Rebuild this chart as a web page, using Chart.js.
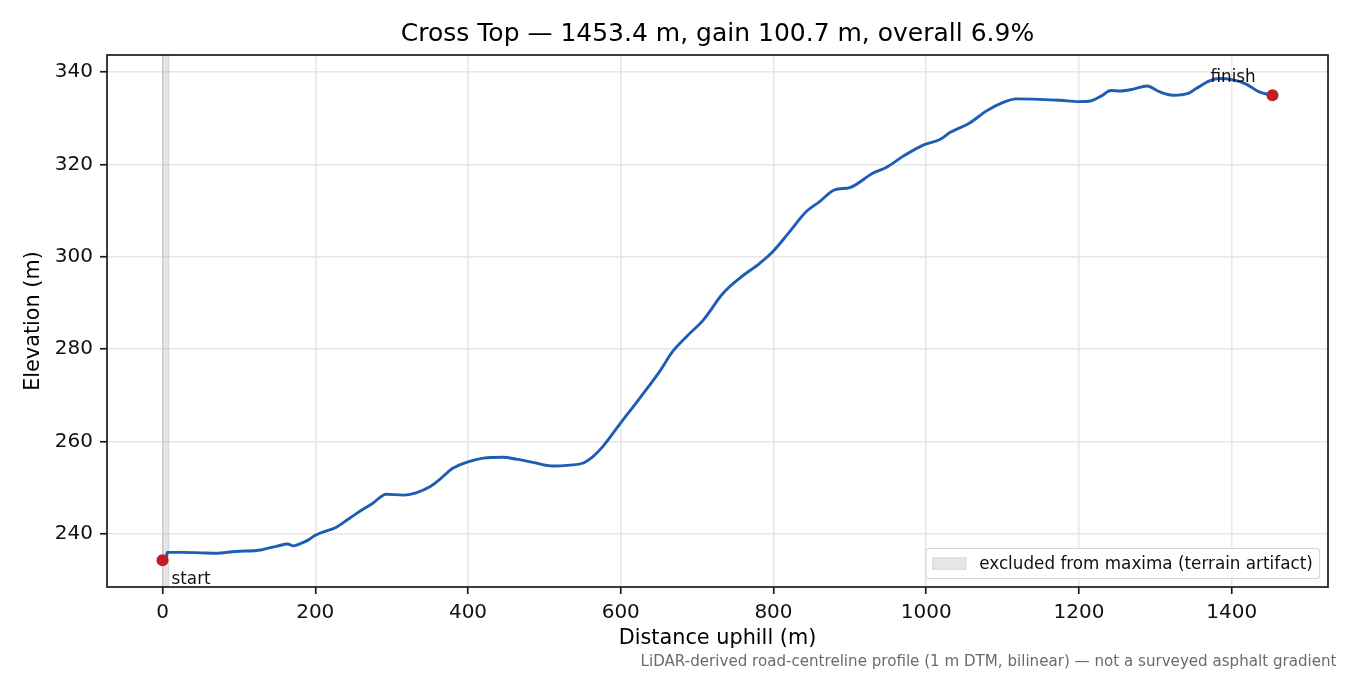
<!DOCTYPE html>
<html>
<head>
<meta charset="utf-8">
<script src="https://cdn.jsdelivr.net/npm/chart.js@4.4.1/dist/chart.umd.min.js"></script>
<style>
html, body { margin: 0; padding: 0; background: #ffffff; }
#wrap { width: 1350px; height: 675px; }
</style>
</head>
<body>
<div id="wrap"><canvas id="profile" width="1350" height="675"></canvas></div>
<script>
// road profile
const distances = [
    0, 5, 6, 27, 50, 70, 96, 129, 136, 149, 164, 171, 179, 190, 199, 210, 227, 245, 262, 275,
    293, 315, 332, 350, 363, 380, 400, 420, 446, 463, 485, 511, 533, 550, 564, 577, 598, 625, 651, 668,
    686, 708, 734, 756, 782, 799, 821, 843, 860, 880, 900, 930, 948, 970, 996, 1018, 1031, 1057, 1079, 1100,
    1118, 1148, 1175, 1200, 1216, 1229, 1242, 1253, 1271, 1289, 1306, 1323, 1343, 1354, 1371, 1384, 1402, 1419, 1436, 1453.4
];
const elevations = [
    234.3, 234.8, 236.0, 236.0, 235.9, 235.8, 236.2, 236.5, 236.8, 237.3, 237.8, 237.4, 237.8, 238.6, 239.6, 240.4, 241.4, 243.4, 245.3, 246.6,
    248.6, 248.4, 248.9, 250.2, 251.8, 254.2, 255.6, 256.4, 256.6, 256.2, 255.5, 254.7, 254.9, 255.3, 256.8, 259.0, 263.6, 269.4, 275.2, 279.5,
    282.7, 286.3, 292.1, 295.4, 298.6, 301.1, 305.4, 309.8, 311.9, 314.5, 315.0, 318.1, 319.4, 321.8, 324.2, 325.4, 326.9, 329.0, 331.6, 333.4,
    334.2, 334.1, 333.9, 333.6, 333.8, 334.8, 336.0, 335.9, 336.3, 337.0, 335.7, 335.0, 335.4, 336.5, 338.1, 338.6, 338.3, 337.4, 335.7, 335.0
];

const markerDistances = [0, 1453.4];
const markerElevations = [234.3, 335.0];
const markerLabels = ['start', 'finish'];

const excludedSpan = [0, 8];

const xTicks = [0, 200, 400, 600, 800, 1000, 1200, 1400];
const yTicks = [240, 260, 280, 300, 320, 340];
const xRange = [-72.7, 1526.1];
const yRange = [228.5, 343.7];

const titleText = 'Cross Top — 1453.4 m, gain 100.7 m, overall 6.9%';
const xLabel = 'Distance uphill (m)';
const yLabel = 'Elevation (m)';
const legendText = 'excluded from maxima (terrain artifact)';
const footnoteText = 'LiDAR-derived road-centreline profile (1 m DTM, bilinear) — not a surveyed asphalt gradient';

const FONT = "'DejaVu Sans', 'Noto Sans', sans-serif";

const profilePoints = distances.map((d, i) => ({ x: d, y: elevations[i] }));
const markerPoints = markerDistances.map((d, i) => ({ x: d, y: markerElevations[i] }));

// grey span behind the start of the road
const spanPlugin = {
    id: 'excludedSpan',
    beforeDatasetsDraw(chart) {
        const { ctx, chartArea, scales } = chart;
        const x0 = scales.x.getPixelForValue(excludedSpan[0]);
        const x1 = scales.x.getPixelForValue(excludedSpan[1]);
        ctx.save();
        ctx.fillStyle = 'rgba(128,128,128,0.2)';
        ctx.strokeStyle = 'rgba(128,128,128,0.2)';
        ctx.lineWidth = 1.5;
        ctx.fillRect(x0, chartArea.top, x1 - x0, chartArea.bottom - chartArea.top);
        ctx.strokeRect(x0, chartArea.top, x1 - x0, chartArea.bottom - chartArea.top);
        ctx.restore();
    }
};

// frame, start/finish labels, legend box and footnote
const decorPlugin = {
    id: 'decor',
    afterDatasetsDraw(chart) {
        const { ctx, chartArea, scales } = chart;
        ctx.save();

        ctx.strokeStyle = '#1a1a1a';
        ctx.lineWidth = 1.7;
        ctx.strokeRect(chartArea.left, chartArea.top, chartArea.right - chartArea.left, chartArea.bottom - chartArea.top);

        ctx.fillStyle = '#111111';
        ctx.font = '16.8px ' + FONT;
        ctx.textBaseline = 'middle';
        ctx.textAlign = 'left';
        const sx = scales.x.getPixelForValue(markerDistances[0]);
        const sy = scales.y.getPixelForValue(markerElevations[0]);
        ctx.fillText(markerLabels[0], sx + 9, sy + 19);
        const fx = scales.x.getPixelForValue(markerDistances[1]);
        const fy = scales.y.getPixelForValue(markerElevations[1]);
        ctx.fillText(markerLabels[1], fx - 62, fy - 18);

        // legend
        const textW = ctx.measureText(legendText).width;
        const boxW = 6.7 + 33.3 + 13.3 + textW + 6.7;
        const boxH = 30;
        const bx = chartArea.right - 8.5 - boxW;
        const by = chartArea.bottom - 8.5 - boxH;
        ctx.beginPath();
        ctx.roundRect(bx, by, boxW, boxH, 3);
        ctx.fillStyle = 'rgba(255,255,255,0.8)';
        ctx.fill();
        ctx.strokeStyle = '#d6d6d6';
        ctx.lineWidth = 1.2;
        ctx.stroke();
        ctx.fillStyle = 'rgba(128,128,128,0.2)';
        ctx.strokeStyle = 'rgba(128,128,128,0.2)';
        ctx.fillRect(bx + 6.7, by + boxH / 2 - 5.8, 33.3, 11.7);
        ctx.strokeRect(bx + 6.7, by + boxH / 2 - 5.8, 33.3, 11.7);
        ctx.fillStyle = '#111111';
        ctx.fillText(legendText, bx + 6.7 + 33.3 + 13.3, by + boxH / 2 + 1);

        ctx.restore();
    },
    afterDraw(chart) {
        const ctx = chart.ctx;
        ctx.save();
        ctx.font = '15.1px ' + FONT;
        ctx.fillStyle = '#6b6b6b';
        ctx.textAlign = 'right';
        ctx.textBaseline = 'bottom';
        ctx.fillText(footnoteText, 1336.5, 670);
        ctx.restore();
    }
};

const tickStyle = {
    color: '#111111',
    font: { family: FONT, size: 20 },
    padding: 7,
    callback: v => String(v)
};
const gridStyle = { color: '#e6e6e6', lineWidth: 1.5, tickLength: 7, tickColor: '#1a1a1a', tickWidth: 1.7 };

new Chart(document.getElementById('profile'), {
    type: 'line',
    data: {
        datasets: [{
            label: 'ends',
            data: markerPoints,
            showLine: false,
            pointRadius: 6,
            pointHoverRadius: 6,
            pointBackgroundColor: '#c21b2a',
            pointBorderWidth: 0
        }, {
            label: 'profile',
            data: profilePoints,
            borderColor: '#1d5db3',
            borderWidth: 2.9,
            pointRadius: 0,
            cubicInterpolationMode: 'monotone',
            fill: false
        }]
    },
    options: {
        responsive: false,
        animation: false,
        events: [],
        layout: { padding: { top: 0, right: 22, bottom: 0, left: 0 } },
        plugins: {
            legend: { display: false },
            tooltip: { enabled: false },
            title: {
                display: true,
                text: titleText,
                fullSize: false,
                color: '#000000',
                font: { family: FONT, size: 25, weight: 'normal', lineHeight: 1.2 },
                padding: { top: 19, bottom: 6 }
            }
        },
        scales: {
            x: {
                type: 'linear',
                min: xRange[0],
                max: xRange[1],
                afterBuildTicks: s => { s.ticks = xTicks.map(v => ({ value: v })); },
                afterFit: s => { s.height = 88; },
                ticks: Object.assign({ maxRotation: 0 }, tickStyle),
                grid: gridStyle,
                border: { display: false },
                title: {
                    display: true,
                    text: xLabel,
                    color: '#000000',
                    font: { family: FONT, size: 20.8, lineHeight: 1.2 },
                    padding: { top: 0, bottom: 23.5 }
                }
            },
            y: {
                type: 'linear',
                min: yRange[0],
                max: yRange[1],
                afterBuildTicks: s => { s.ticks = yTicks.map(v => ({ value: v })); },
                afterFit: s => { s.width = 107; },
                ticks: tickStyle,
                grid: gridStyle,
                border: { display: false },
                title: {
                    display: true,
                    text: yLabel,
                    color: '#000000',
                    font: { family: FONT, size: 20.8, lineHeight: 1.2 },
                    padding: { top: 21.5, bottom: 0 }
                }
            }
        }
    },
    plugins: [spanPlugin, decorPlugin]
});
</script>
</body>
</html>
